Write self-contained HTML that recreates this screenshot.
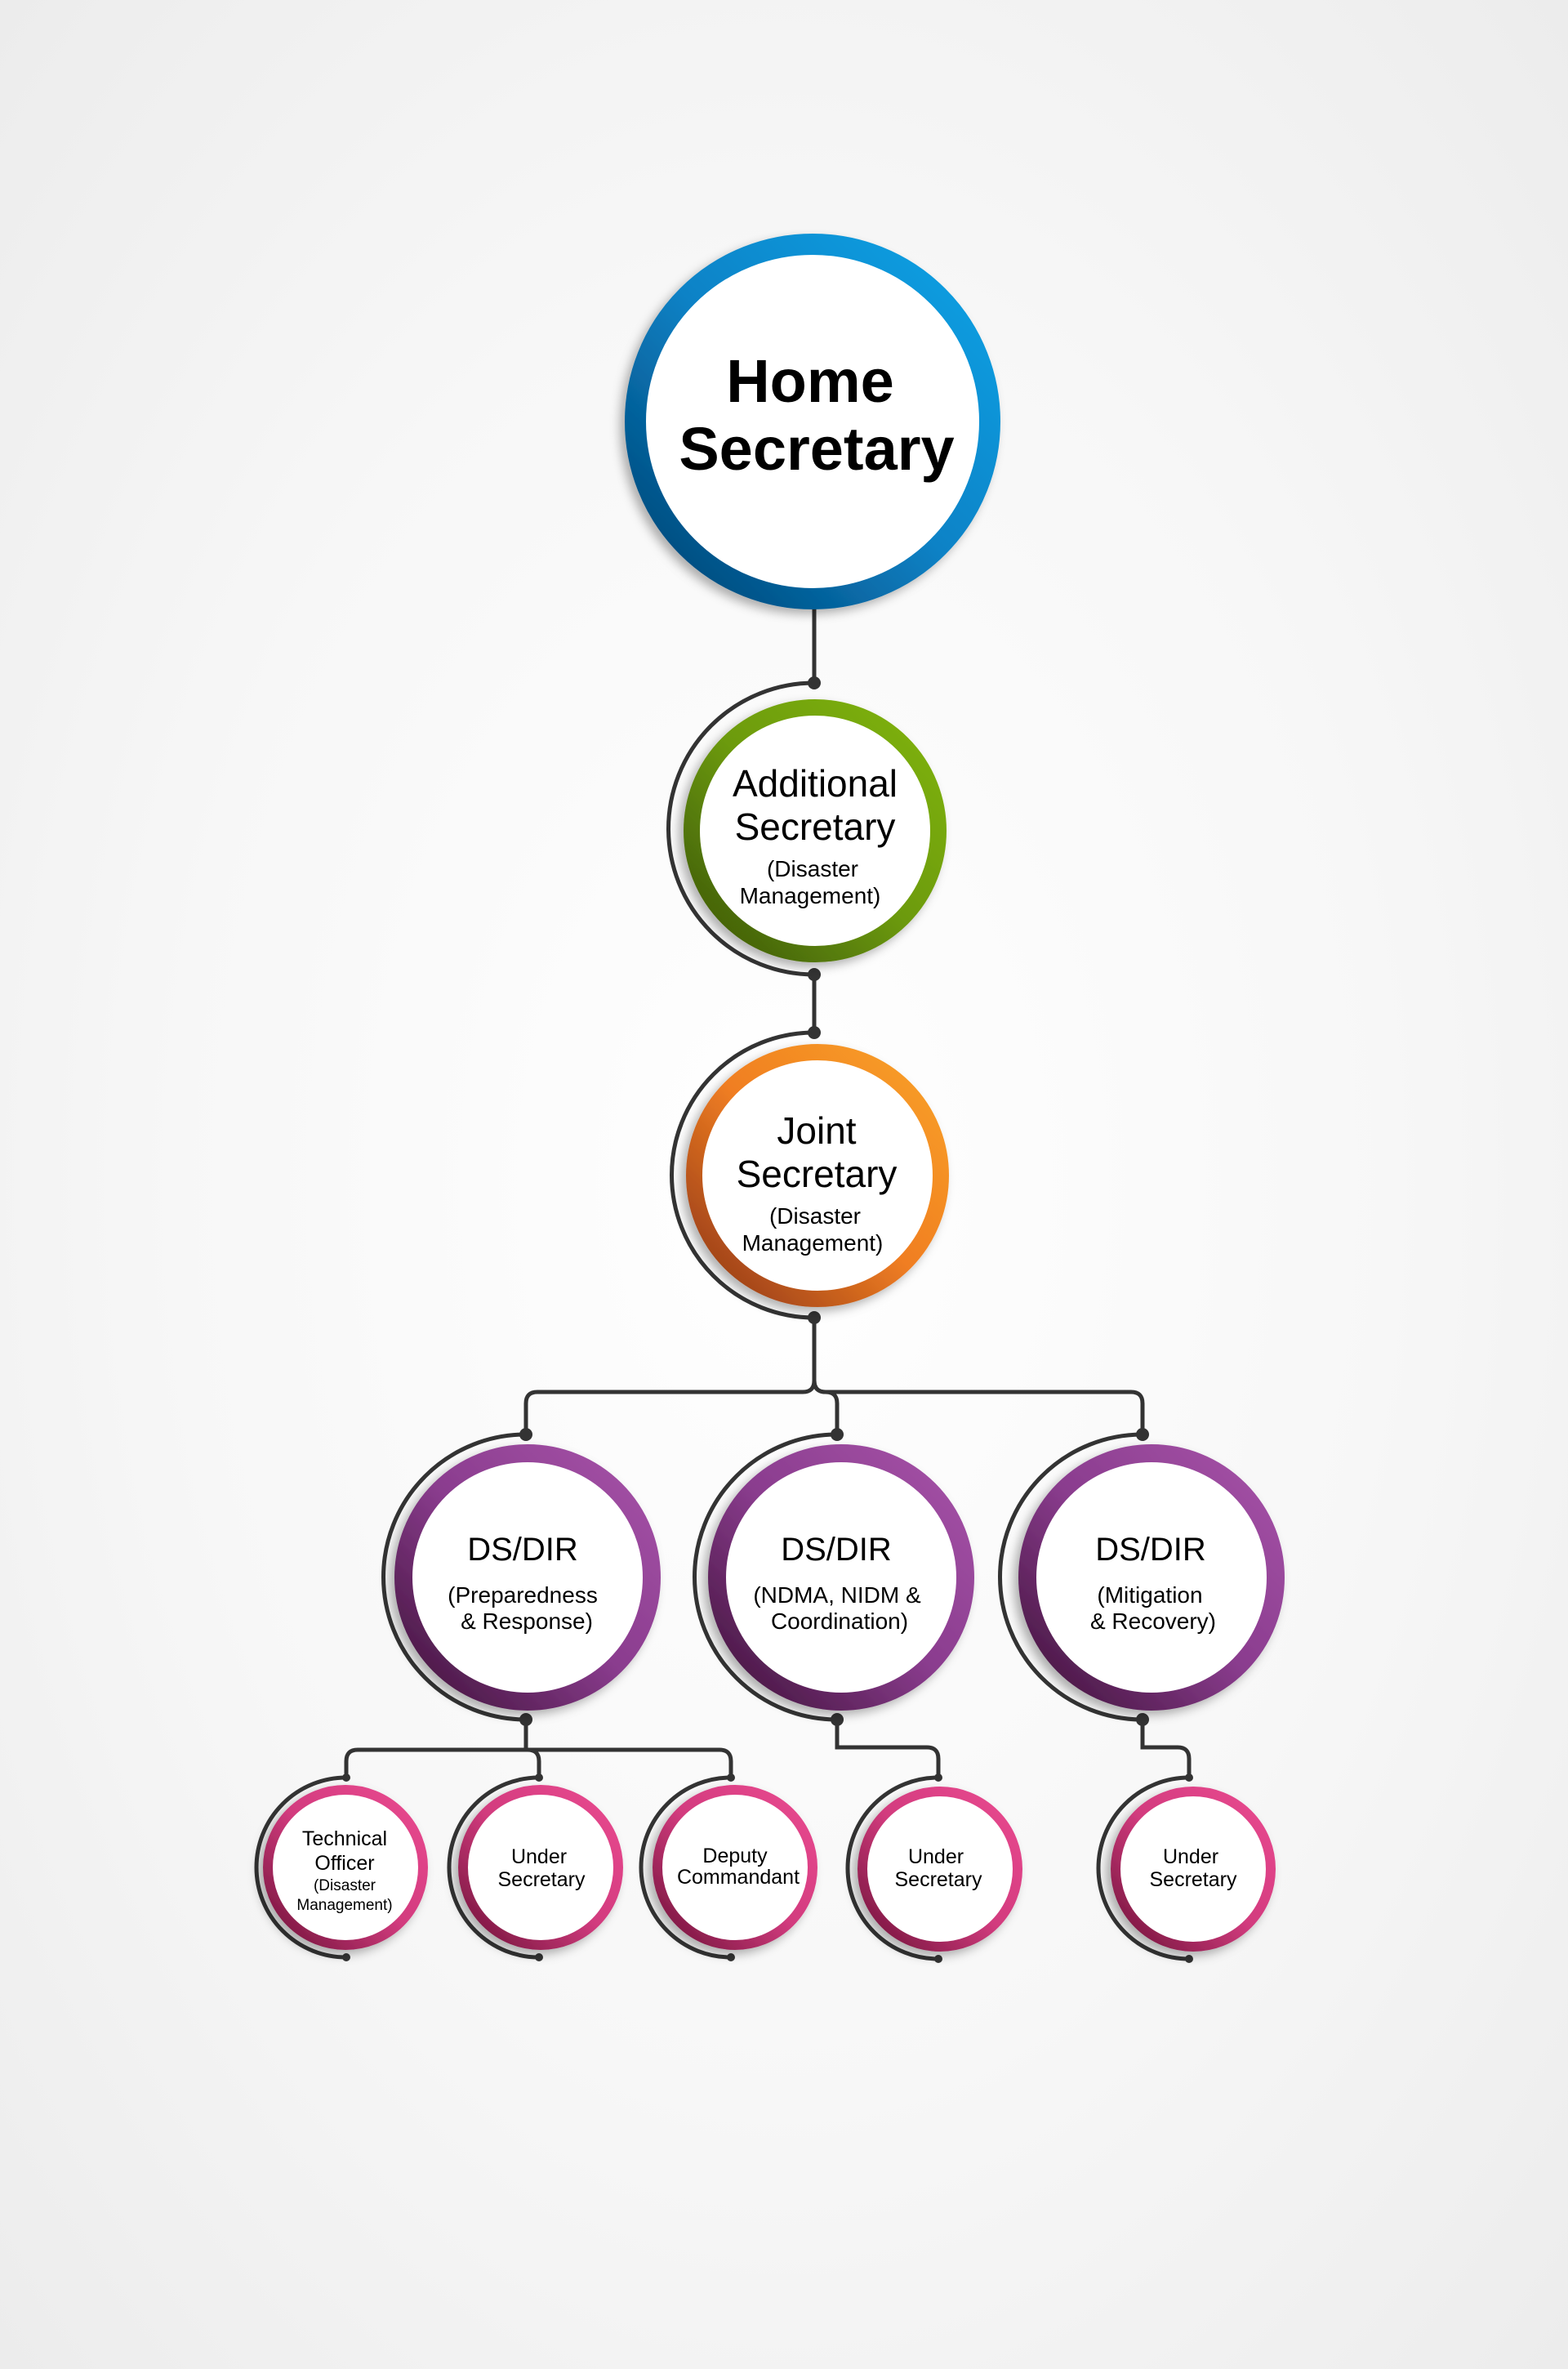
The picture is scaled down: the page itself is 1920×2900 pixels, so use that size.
<!DOCTYPE html>
<html><head><meta charset="utf-8"><style>
html,body{margin:0;padding:0}
body{width:1920px;height:2900px;background:radial-gradient(ellipse at 50% 50%,#ffffff 0%,#f7f7f7 55%,#ececec 100%);overflow:hidden}
svg{position:absolute;left:0;top:0}
text{font-family:"Liberation Sans",sans-serif;fill:#000;text-anchor:middle}
.c{font-family:"Liberation Sans Narrow","Liberation Sans",sans-serif}
</style></head><body>
<svg width="1920" height="2900" viewBox="0 0 1920 2900">
<defs>
<linearGradient id="blue" x1="1" y1="0" x2="0" y2="1"><stop offset="0" stop-color="#0aa3e6"/><stop offset="0.5" stop-color="#0b82c6"/><stop offset="1" stop-color="#003f6e"/></linearGradient>
<linearGradient id="green" x1="1" y1="0" x2="0" y2="1"><stop offset="0" stop-color="#80b40a"/><stop offset="0.5" stop-color="#6c9a08"/><stop offset="1" stop-color="#3a5406"/></linearGradient>
<linearGradient id="orange" x1="1" y1="0" x2="0" y2="1"><stop offset="0" stop-color="#f9a227"/><stop offset="0.5" stop-color="#f07e22"/><stop offset="1" stop-color="#8d3416"/></linearGradient>
<linearGradient id="purple" x1="1" y1="0" x2="0" y2="1"><stop offset="0" stop-color="#a653a8"/><stop offset="0.5" stop-color="#8a3c8e"/><stop offset="1" stop-color="#3e1238"/></linearGradient>
<linearGradient id="pink" x1="1" y1="0" x2="0" y2="1"><stop offset="0" stop-color="#ea4a90"/><stop offset="0.5" stop-color="#d23b7e"/><stop offset="1" stop-color="#6e1238"/></linearGradient>
<filter id="sh" x="-30%" y="-30%" width="160%" height="160%"><feDropShadow dx="-6" dy="6" stdDeviation="6" flood-color="#000" flood-opacity="0.3"/></filter>
</defs>
<g fill="none" stroke="#333" stroke-width="5">
<!-- trunk -->
<path d="M997 742 V836"/>
<path d="M997 1193 V1264"/>
<path d="M997 1613 V1690 Q997 1704 983 1704 H658 Q644 1704 644 1718 V1756"/>
<path d="M997 1690 Q997 1704 1011 1704 H1385 Q1399 1704 1399 1718 V1756"/>
<path d="M997 1690 Q997 1704 1011 1704 Q1025 1704 1025 1718 V1756"/>
<!-- sub -->
<path d="M644 2105 V2142 H438 Q424 2142 424 2156 V2176"/>
<path d="M644 2142 H881 Q895 2142 895 2156 V2176"/>
<path d="M644 2142 H646 Q660 2142 660 2156 V2176"/>
<path d="M1025 2105 V2139 H1135 Q1149 2139 1149 2153 V2176"/>
<path d="M1399 2105 V2139 H1442 Q1456 2139 1456 2153 V2176"/>
<!-- arcs -->
<path d="M997 836 A178 178 0 0 0 997 1193"/>
<path d="M997 1264 A174.5 174.5 0 0 0 997 1613"/>
<path d="M644 1756 A174.5 174.5 0 0 0 644 2105"/>
<path d="M1025 1756 A174.5 174.5 0 0 0 1025 2105"/>
<path d="M1399 1756 A174.5 174.5 0 0 0 1399 2105"/>
<path d="M424 2176 A110 110 0 0 0 424 2396"/>
<path d="M660 2176 A110 110 0 0 0 660 2396"/>
<path d="M895 2176 A110 110 0 0 0 895 2396"/>
<path d="M1149 2176 A111 111 0 0 0 1149 2398"/>
<path d="M1456 2176 A111 111 0 0 0 1456 2398"/>
</g>
<g fill="#333">
<circle cx="997" cy="836" r="8"/><circle cx="997" cy="1193" r="8"/><circle cx="997" cy="1264" r="8"/><circle cx="997" cy="1613" r="8"/>
<circle cx="644" cy="1756" r="8"/><circle cx="1025" cy="1756" r="8"/><circle cx="1399" cy="1756" r="8"/>
<circle cx="644" cy="2105" r="8"/><circle cx="1025" cy="2105" r="8"/><circle cx="1399" cy="2105" r="8"/>
<circle cx="424" cy="2176" r="5"/><circle cx="660" cy="2176" r="5"/><circle cx="895" cy="2176" r="5"/><circle cx="1149" cy="2176" r="5"/><circle cx="1456" cy="2176" r="5"/>
<circle cx="424" cy="2396" r="5"/><circle cx="660" cy="2396" r="5"/><circle cx="895" cy="2396" r="5"/><circle cx="1149" cy="2398" r="5"/><circle cx="1456" cy="2398" r="5"/>
</g>
<!-- circles -->
<g filter="url(#sh)">
<circle cx="995" cy="516" r="217" fill="#fff" stroke="url(#blue)" stroke-width="26"/>
<circle cx="998" cy="1017" r="151" fill="#fff" stroke="url(#green)" stroke-width="20"/>
<circle cx="1001" cy="1439" r="151" fill="#fff" stroke="url(#orange)" stroke-width="20"/>
<circle cx="646" cy="1931" r="152" fill="#fff" stroke="url(#purple)" stroke-width="22"/>
<circle cx="1030" cy="1931" r="152" fill="#fff" stroke="url(#purple)" stroke-width="22"/>
<circle cx="1410" cy="1931" r="152" fill="#fff" stroke="url(#purple)" stroke-width="22"/>
<circle cx="423" cy="2286" r="95" fill="#fff" stroke="url(#pink)" stroke-width="12"/>
<circle cx="662" cy="2286" r="95" fill="#fff" stroke="url(#pink)" stroke-width="12"/>
<circle cx="900" cy="2286" r="95" fill="#fff" stroke="url(#pink)" stroke-width="12"/>
<circle cx="1151" cy="2288" r="95" fill="#fff" stroke="url(#pink)" stroke-width="12"/>
<circle cx="1461" cy="2288" r="95" fill="#fff" stroke="url(#pink)" stroke-width="12"/>
</g>
<!-- text -->
<text x="992" y="492" font-size="74" font-weight="bold">Home</text>
<text x="1000" y="575" font-size="74" font-weight="bold">Secretary</text>
<text x="998" y="975" font-size="46">Additional</text>
<text x="998" y="1028" font-size="46">Secretary</text>
<text x="995" y="1073" font-size="28">(Disaster</text>
<text x="992" y="1106" font-size="28">Management)</text>
<text x="1000" y="1400" font-size="46">Joint</text>
<text x="1000" y="1453" font-size="46">Secretary</text>
<text x="998" y="1498" font-size="28">(Disaster</text>
<text x="995" y="1531" font-size="28">Management)</text>
<g class="c">
<text x="640" y="1910" font-size="40" class="c">DS/DIR</text>
<text x="640" y="1962" font-size="28" class="c">(Preparedness</text>
<text x="645" y="1994" font-size="28" class="c">&amp; Response)</text>
<text x="1024" y="1910" font-size="40" class="c">DS/DIR</text>
<text x="1025" y="1962" font-size="28" class="c">(NDMA, NIDM &amp;</text>
<text x="1028" y="1994" font-size="28" class="c">Coordination)</text>
<text x="1409" y="1910" font-size="40" class="c">DS/DIR</text>
<text x="1408" y="1962" font-size="28" class="c">(Mitigation</text>
<text x="1412" y="1994" font-size="28" class="c">&amp; Recovery)</text>
<text x="422" y="2259" font-size="25" class="c">Technical</text>
<text x="422" y="2289" font-size="25" class="c">Officer</text>
<text x="422" y="2314" font-size="19" class="c">(Disaster</text>
<text x="422" y="2338" font-size="19" class="c">Management)</text>
<text x="660" y="2281" font-size="25" class="c">Under</text>
<text x="663" y="2309" font-size="25" class="c">Secretary</text>
<text x="900" y="2280" font-size="25" class="c">Deputy</text>
<text x="904" y="2306" font-size="25" class="c">Commandant</text>
<text x="1146" y="2281" font-size="25" class="c">Under</text>
<text x="1149" y="2309" font-size="25" class="c">Secretary</text>
<text x="1458" y="2281" font-size="25" class="c">Under</text>
<text x="1461" y="2309" font-size="25" class="c">Secretary</text>
</g>
</svg>
</body></html>
